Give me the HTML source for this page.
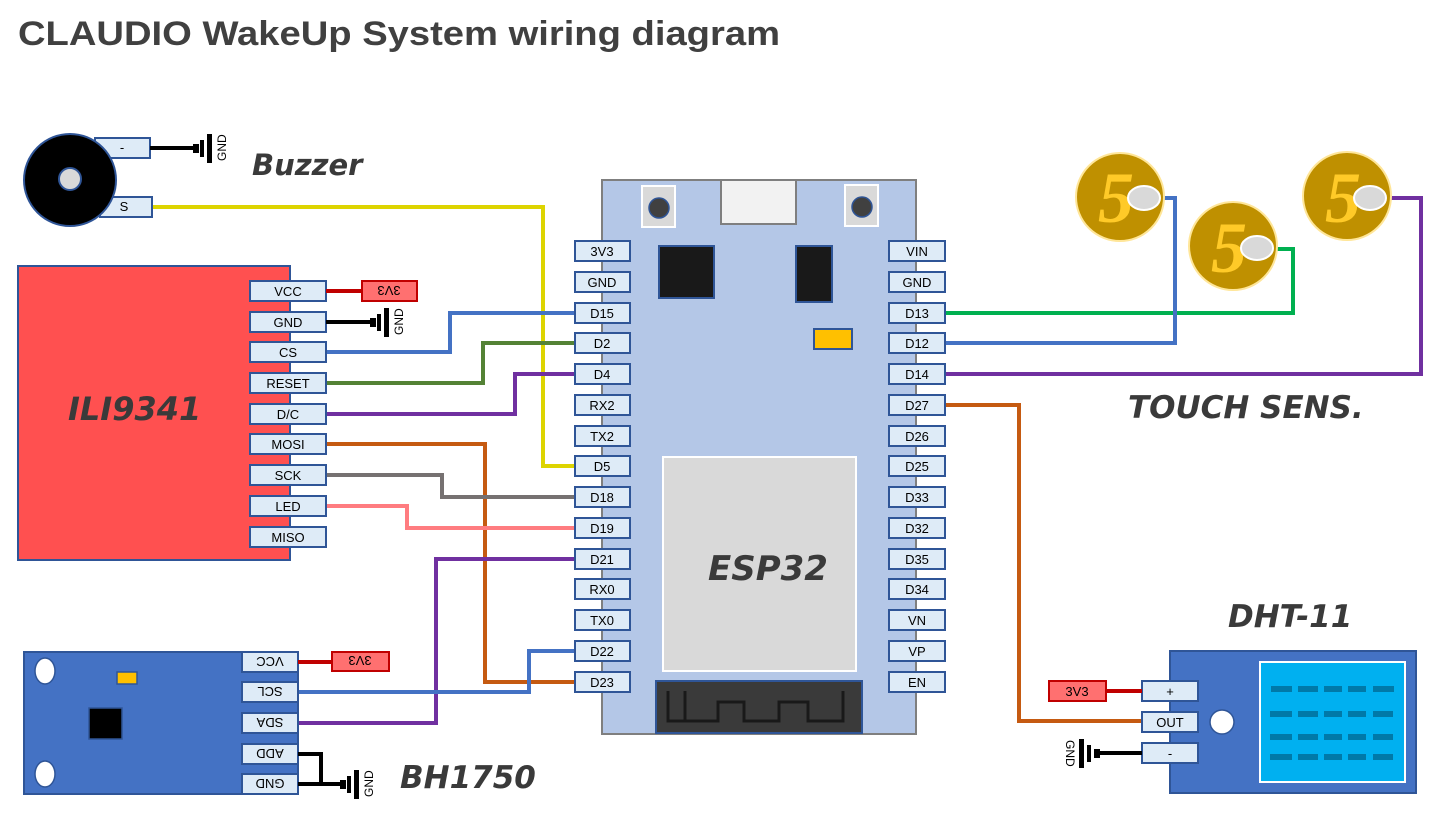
<!DOCTYPE html>
<html><head><meta charset="utf-8"><style>
html,body{margin:0;padding:0;background:#fff;}
svg{display:block;font-family:"Liberation Sans",sans-serif;}
.pin{fill:#DEEBF7;stroke:#2F5597;stroke-width:2;}
.pt{font-size:13px;fill:#000;text-anchor:middle;}
.lbl{font-family:"DejaVu Sans",sans-serif;font-weight:bold;font-style:italic;fill:#3A3A3A;}
.w{fill:none;stroke-width:4;}
.r33{fill:#FF7070;stroke:#C00000;stroke-width:2;}
</style></head><body>
<svg width="1445" height="813" viewBox="0 0 1445 813" xmlns="http://www.w3.org/2000/svg">
<text x="18" y="45" font-size="34" font-weight="bold" fill="#404040" textLength="762" lengthAdjust="spacingAndGlyphs">CLAUDIO WakeUp System wiring diagram</text>

<!-- wires -->
<polyline class="w" stroke="#DDD400" points="152,207 543,207 543,466 575,466"/>
<polyline class="w" stroke="#4472C4" points="326,352 450,352 450,313 575,313"/>
<polyline class="w" stroke="#548235" points="326,383 483,383 483,343 575,343"/>
<polyline class="w" stroke="#7030A0" points="326,414 515,414 515,374 575,374"/>
<polyline class="w" stroke="#C55A11" points="326,444 485,444 485,682 575,682"/>
<polyline class="w" stroke="#767171" points="326,475 442,475 442,497 575,497"/>
<polyline class="w" stroke="#FF7C80" points="326,506 407,506 407,528 575,528"/>
<polyline class="w" stroke="#7030A0" points="298,723 436,723 436,559 575,559"/>
<polyline class="w" stroke="#4472C4" points="298,692 529,692 529,651 575,651"/>
<polyline class="w" stroke="#00B050" points="945,313 1293,313 1293,249 1270,249"/>
<polyline class="w" stroke="#4472C4" points="945,343 1175,343 1175,198 1155,198"/>
<polyline class="w" stroke="#7030A0" points="945,374 1421,374 1421,198 1385,198"/>
<polyline class="w" stroke="#C55A11" points="945,405 1019,405 1019,721 1142,721"/>

<!-- Buzzer -->
<rect class="pin" x="95" y="138" width="55" height="20"/><text class="pt" x="122" y="152">-</text>
<rect class="pin" x="100" y="197" width="52" height="20"/><text class="pt" x="124" y="211">S</text>
<circle cx="70" cy="180" r="46" fill="#000" stroke="#2F5597" stroke-width="2"/>
<circle cx="70" cy="179" r="11" fill="#D9D9D9" stroke="#2F5597" stroke-width="2"/>
<line x1="150" y1="148" x2="195" y2="148" stroke="#000" stroke-width="4"/>
<rect x="193" y="144" width="6" height="9" fill="#000"/>
<rect x="200" y="140" width="4" height="17" fill="#000"/>
<rect x="207" y="134" width="5" height="29" fill="#000"/>
<text x="0" y="0" font-size="12" transform="translate(226,161) rotate(-90)">GND</text>
<text class="lbl" x="252" y="175" font-size="29">Buzzer</text>

<!-- ILI9341 -->
<rect x="18" y="266" width="272" height="294" fill="#FF5050" stroke="#2F5597" stroke-width="2"/>
<text class="lbl" x="68" y="420" font-size="32">ILI9341</text>
<rect class="pin" x="250" y="281" width="76" height="20"/><text class="pt" x="288" y="296">VCC</text>
<rect class="pin" x="250" y="312" width="76" height="20"/><text class="pt" x="288" y="327">GND</text>
<rect class="pin" x="250" y="342" width="76" height="20"/><text class="pt" x="288" y="357">CS</text>
<rect class="pin" x="250" y="373" width="76" height="20"/><text class="pt" x="288" y="388">RESET</text>
<rect class="pin" x="250" y="404" width="76" height="20"/><text class="pt" x="288" y="419">D/C</text>
<rect class="pin" x="250" y="434" width="76" height="20"/><text class="pt" x="288" y="449">MOSI</text>
<rect class="pin" x="250" y="465" width="76" height="20"/><text class="pt" x="288" y="480">SCK</text>
<rect class="pin" x="250" y="496" width="76" height="20"/><text class="pt" x="288" y="511">LED</text>
<rect class="pin" x="250" y="527" width="76" height="20"/><text class="pt" x="288" y="542">MISO</text>
<line x1="326" y1="291" x2="362" y2="291" stroke="#C00000" stroke-width="4"/>
<rect class="r33" x="362" y="281" width="55" height="20"/>
<text class="pt" transform="translate(389,291) rotate(180)" y="5">3V3</text>
<line x1="326" y1="322" x2="372" y2="322" stroke="#000" stroke-width="4"/>
<rect x="370" y="318" width="6" height="9" fill="#000"/>
<rect x="377" y="314" width="4" height="17" fill="#000"/>
<rect x="384" y="308" width="5" height="29" fill="#000"/>
<text font-size="12" transform="translate(403,335) rotate(-90)">GND</text>

<!-- ESP32 -->
<rect x="602" y="180" width="314" height="554" fill="#B4C7E7" stroke="#7F7F7F" stroke-width="2"/>
<rect x="721" y="180" width="75" height="44" fill="#F2F2F2" stroke="#7F7F7F" stroke-width="2"/>
<rect x="642" y="186" width="33" height="41" fill="#D9D9D9" stroke="#fff" stroke-width="2"/>
<circle cx="659" cy="208" r="10" fill="#404040" stroke="#2F5597" stroke-width="1.5"/>
<rect x="845" y="185" width="33" height="41" fill="#D9D9D9" stroke="#fff" stroke-width="2"/>
<circle cx="862" cy="207" r="10" fill="#404040" stroke="#2F5597" stroke-width="1.5"/>
<rect x="659" y="246" width="55" height="52" fill="#191919" stroke="#2F5597" stroke-width="2"/>
<rect x="796" y="246" width="36" height="56" fill="#191919" stroke="#2F5597" stroke-width="2"/>
<rect x="814" y="329" width="38" height="20" fill="#FFC000" stroke="#2F5597" stroke-width="2"/>
<rect x="663" y="457" width="193" height="214" fill="#D9D9D9" stroke="#fff" stroke-width="2"/>
<text class="lbl" x="708" y="580" font-size="34">ESP32</text>
<rect x="656" y="681" width="206" height="52" fill="#3A3A3A" stroke="#2F5597" stroke-width="2"/>
<polyline fill="none" stroke="#191919" stroke-width="3" points="668,691 668,721 685,721 685,691 685,721 718,721 718,702 744,702 744,721 779,721 779,702 808,702 808,721 843,721 843,691"/>

<g>
<rect class="pin" x="575" y="241" width="55" height="20"/><text class="pt" x="602" y="256">3V3</text>
<rect class="pin" x="575" y="272" width="55" height="20"/><text class="pt" x="602" y="287">GND</text>
<rect class="pin" x="575" y="303" width="55" height="20"/><text class="pt" x="602" y="318">D15</text>
<rect class="pin" x="575" y="333" width="55" height="20"/><text class="pt" x="602" y="348">D2</text>
<rect class="pin" x="575" y="364" width="55" height="20"/><text class="pt" x="602" y="379">D4</text>
<rect class="pin" x="575" y="395" width="55" height="20"/><text class="pt" x="602" y="410">RX2</text>
<rect class="pin" x="575" y="426" width="55" height="20"/><text class="pt" x="602" y="441">TX2</text>
<rect class="pin" x="575" y="456" width="55" height="20"/><text class="pt" x="602" y="471">D5</text>
<rect class="pin" x="575" y="487" width="55" height="20"/><text class="pt" x="602" y="502">D18</text>
<rect class="pin" x="575" y="518" width="55" height="20"/><text class="pt" x="602" y="533">D19</text>
<rect class="pin" x="575" y="549" width="55" height="20"/><text class="pt" x="602" y="564">D21</text>
<rect class="pin" x="575" y="579" width="55" height="20"/><text class="pt" x="602" y="594">RX0</text>
<rect class="pin" x="575" y="610" width="55" height="20"/><text class="pt" x="602" y="625">TX0</text>
<rect class="pin" x="575" y="641" width="55" height="20"/><text class="pt" x="602" y="656">D22</text>
<rect class="pin" x="575" y="672" width="55" height="20"/><text class="pt" x="602" y="687">D23</text>
</g>
<g>
<rect class="pin" x="889" y="241" width="56" height="20"/><text class="pt" x="917" y="256">VIN</text>
<rect class="pin" x="889" y="272" width="56" height="20"/><text class="pt" x="917" y="287">GND</text>
<rect class="pin" x="889" y="303" width="56" height="20"/><text class="pt" x="917" y="318">D13</text>
<rect class="pin" x="889" y="333" width="56" height="20"/><text class="pt" x="917" y="348">D12</text>
<rect class="pin" x="889" y="364" width="56" height="20"/><text class="pt" x="917" y="379">D14</text>
<rect class="pin" x="889" y="395" width="56" height="20"/><text class="pt" x="917" y="410">D27</text>
<rect class="pin" x="889" y="426" width="56" height="20"/><text class="pt" x="917" y="441">D26</text>
<rect class="pin" x="889" y="456" width="56" height="20"/><text class="pt" x="917" y="471">D25</text>
<rect class="pin" x="889" y="487" width="56" height="20"/><text class="pt" x="917" y="502">D33</text>
<rect class="pin" x="889" y="518" width="56" height="20"/><text class="pt" x="917" y="533">D32</text>
<rect class="pin" x="889" y="549" width="56" height="20"/><text class="pt" x="917" y="564">D35</text>
<rect class="pin" x="889" y="579" width="56" height="20"/><text class="pt" x="917" y="594">D34</text>
<rect class="pin" x="889" y="610" width="56" height="20"/><text class="pt" x="917" y="625">VN</text>
<rect class="pin" x="889" y="641" width="56" height="20"/><text class="pt" x="917" y="656">VP</text>
<rect class="pin" x="889" y="672" width="56" height="20"/><text class="pt" x="917" y="687">EN</text>
</g>

<!-- coins -->
<g font-family="'Liberation Serif',serif" font-weight="bold" font-style="italic" font-size="72" fill="#FFCA28">
<circle cx="1120" cy="197" r="44" fill="#BF9000" stroke="#FFE699" stroke-width="2"/>
<text x="1098" y="222">5</text>
<ellipse cx="1144" cy="198" rx="16" ry="12" fill="#D9D9D9" stroke="#fff" stroke-width="2"/>
<circle cx="1233" cy="246" r="44" fill="#BF9000" stroke="#FFE699" stroke-width="2"/>
<text x="1211" y="272">5</text>
<ellipse cx="1257" cy="248" rx="16" ry="12" fill="#D9D9D9" stroke="#fff" stroke-width="2"/>
<circle cx="1347" cy="196" r="44" fill="#BF9000" stroke="#FFE699" stroke-width="2"/>
<text x="1325" y="222">5</text>
<ellipse cx="1370" cy="198" rx="16" ry="12" fill="#D9D9D9" stroke="#fff" stroke-width="2"/>
</g>
<text class="lbl" x="1128" y="418" font-size="31">TOUCH SENS.</text>

<!-- BH1750 -->
<rect x="24" y="652" width="274" height="142" fill="#4472C4" stroke="#2F5597" stroke-width="2"/>
<ellipse cx="45" cy="671" rx="10" ry="13" fill="#fff" stroke="#2F5597" stroke-width="1.5"/>
<ellipse cx="45" cy="774" rx="10" ry="13" fill="#fff" stroke="#2F5597" stroke-width="1.5"/>
<rect x="117" y="672" width="20" height="12" fill="#FFC000" stroke="#2F5597" stroke-width="1.5"/>
<rect x="89" y="708" width="33" height="31" fill="#000" stroke="#2F5597" stroke-width="1.5"/>
<rect class="pin" x="242" y="652" width="56" height="20"/><text class="pt" transform="translate(270,662) rotate(180)" y="5">VCC</text>
<rect class="pin" x="242" y="682" width="56" height="20"/><text class="pt" transform="translate(270,692) rotate(180)" y="5">SCL</text>
<rect class="pin" x="242" y="713" width="56" height="20"/><text class="pt" transform="translate(270,723) rotate(180)" y="5">SDA</text>
<rect class="pin" x="242" y="744" width="56" height="20"/><text class="pt" transform="translate(270,754) rotate(180)" y="5">ADD</text>
<rect class="pin" x="242" y="774" width="56" height="20"/><text class="pt" transform="translate(270,784) rotate(180)" y="5">GND</text>
<line x1="298" y1="662" x2="332" y2="662" stroke="#C00000" stroke-width="4"/>
<rect class="r33" x="332" y="652" width="57" height="19"/>
<text class="pt" transform="translate(360,661) rotate(180)" y="5">3V3</text>
<polyline class="w" stroke="#000" points="298,754 321,754 321,784"/>
<line x1="298" y1="784" x2="342" y2="784" stroke="#000" stroke-width="4"/>
<rect x="340" y="780" width="6" height="9" fill="#000"/>
<rect x="347" y="776" width="4" height="17" fill="#000"/>
<rect x="354" y="770" width="5" height="29" fill="#000"/>
<text font-size="12" transform="translate(373,797) rotate(-90)">GND</text>
<text class="lbl" x="400" y="788" font-size="31">BH1750</text>

<!-- DHT-11 -->
<rect x="1170" y="651" width="246" height="142" fill="#4472C4" stroke="#2F5597" stroke-width="2"/>
<rect x="1260" y="662" width="145" height="120" fill="#00B0F0" stroke="#fff" stroke-width="2"/>
<g fill="#0079A8">
<rect x="1271" y="686" width="21" height="6"/><rect x="1298" y="686" width="20" height="6"/><rect x="1324" y="686" width="18" height="6"/><rect x="1348" y="686" width="18" height="6"/><rect x="1373" y="686" width="21" height="6"/>
<rect x="1270" y="711" width="22" height="6"/><rect x="1298" y="711" width="20" height="6"/><rect x="1324" y="711" width="18" height="6"/><rect x="1348" y="711" width="18" height="6"/><rect x="1373" y="711" width="20" height="6"/>
<rect x="1270" y="734" width="22" height="6"/><rect x="1298" y="734" width="20" height="6"/><rect x="1324" y="734" width="18" height="6"/><rect x="1348" y="734" width="18" height="6"/><rect x="1373" y="734" width="20" height="6"/>
<rect x="1270" y="754" width="22" height="6"/><rect x="1298" y="754" width="20" height="6"/><rect x="1324" y="754" width="18" height="6"/><rect x="1348" y="754" width="18" height="6"/><rect x="1373" y="754" width="20" height="6"/>
</g>
<circle cx="1222" cy="722" r="12" fill="#fff" stroke="#2F5597" stroke-width="1.5"/>
<rect class="pin" x="1142" y="681" width="56" height="20"/><text class="pt" x="1170" y="696">+</text>
<rect class="pin" x="1142" y="712" width="56" height="20"/><text class="pt" x="1170" y="727">OUT</text>
<rect class="pin" x="1142" y="743" width="56" height="20"/><text class="pt" x="1170" y="758">-</text>
<line x1="1106" y1="691" x2="1142" y2="691" stroke="#C00000" stroke-width="4"/>
<rect class="r33" x="1049" y="681" width="57" height="20"/><text class="pt" x="1077" y="696">3V3</text>
<line x1="1097" y1="753" x2="1142" y2="753" stroke="#000" stroke-width="4"/>
<rect x="1094" y="749" width="6" height="9" fill="#000"/>
<rect x="1087" y="745" width="4" height="17" fill="#000"/>
<rect x="1079" y="739" width="5" height="29" fill="#000"/>
<text font-size="12" transform="translate(1066,740) rotate(90)">GND</text>
<text class="lbl" x="1228" y="627" font-size="31">DHT-11</text>
</svg>
</body></html>
